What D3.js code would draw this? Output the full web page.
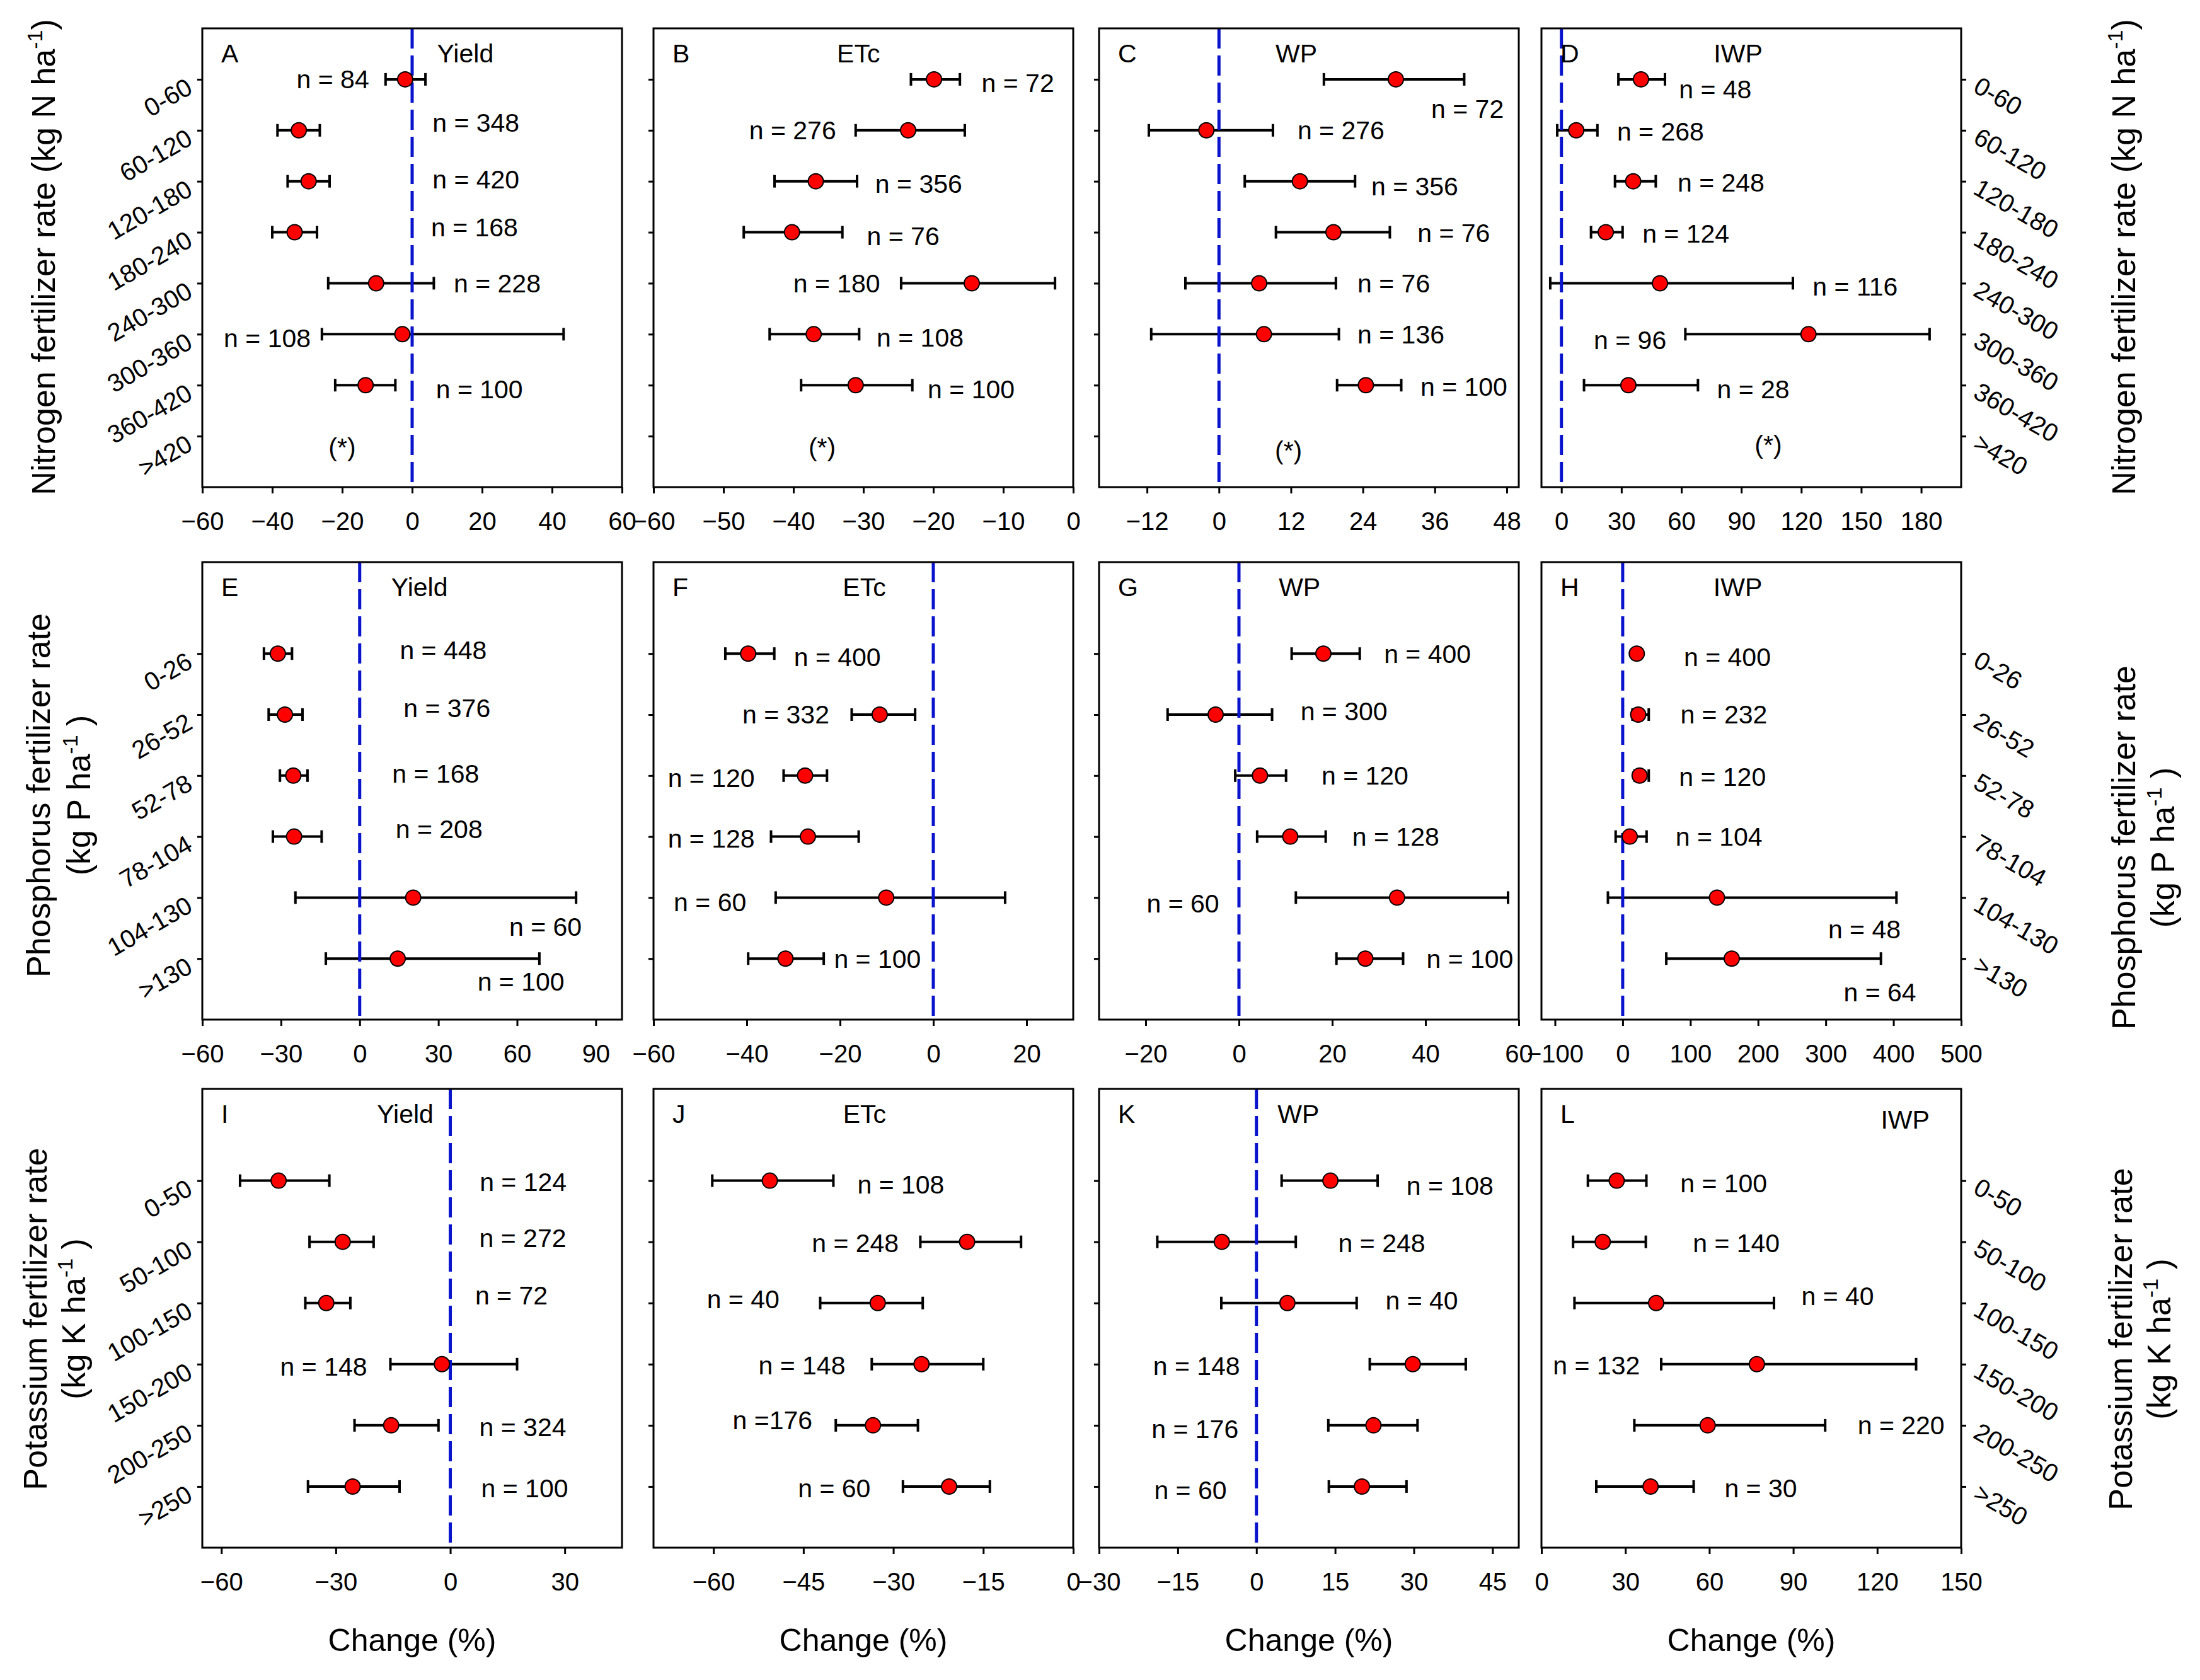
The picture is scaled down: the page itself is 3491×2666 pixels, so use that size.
<!DOCTYPE html>
<html>
<head>
<meta charset="utf-8">
<script src="https://cdn.jsdelivr.net/npm/d3@7"></script>
<style>
  body { margin: 0; background: #fff; }
</style>
</head>
<body>
<script>
const font = "Arial, 'Liberation Sans', sans-serif";

// fertilizer rate classes (kg ha-1)
const nRates = ["0-60", "60-120", "120-180", "180-240", "240-300", "300-360", "360-420", ">420"];
const pRates = ["0-26", "26-52", "52-78", "78-104", "104-130", ">130"];
const kRates = ["0-50", "50-100", "100-150", "150-200", "200-250", ">250"];

// effect sizes, % change: [mean, lower CI, upper CI, n]
const yieldN = [[-2, -7.6, 3.8, 84], [-32.4, -38.5, -26.4, 348], [-29.6, -35.6, -23.6, 420], [-33.6, -40, -27.2, 168],
  [-10.3, -24, 6.2, 228], [-2.8, -25.8, 43.3, 108], [-13.3, -22, -4.8, 100]];
const etcN = [[-19.9, -23.2, -16.2, 72], [-23.6, -31.1, -15.5, 276], [-36.8, -42.7, -30.9, 356], [-40.2, -47.1, -33, 76],
  [-14.5, -24.6, -2.6, 180], [-37.1, -43.4, -30.6, 108], [-31.1, -38.9, -23, 100]];
const wpN = [[29.5, 17.5, 40.9, 72], [-2.1, -11.7, 9, 276], [13.5, 4.3, 22.7, 356], [19.1, 9.5, 28.5, 76],
  [6.7, -5.6, 19.5, 76], [7.5, -11.3, 20, 136], [24.5, 19.7, 30.4, 100]];
const iwpN = [[39.8, 28.5, 51.8, 48], [7.4, -2.1, 18, 268], [35.9, 26.8, 47.2, 248], [22.2, 14.8, 30.6, 124],
  [49.3, -5.6, 115.8, 116], [123.6, 62, 184.2, 96], [33.5, 11.3, 68.3, 28]];

const yieldP = [[-31.2, -36.5, -25.8, 448], [-28.5, -34.7, -21.8, 376], [-25.3, -30.4, -19.9, 168],
  [-25, -33.1, -14.5, 208], [20.4, -24.5, 82.5, 60], [14.5, -12.9, 68.5, 100]];
const etcP = [[-39.7, -44.6, -34.1, 400], [-11.5, -17.5, -3.9, 332], [-27.5, -32.1, -22.8, 120],
  [-26.9, -34.8, -16, 128], [-10.1, -33.8, 15.4, 60], [-31.7, -39.7, -23.5, 100]];
const wpP = [[18.1, 11.3, 25.9, 400], [-5, -15.3, 7.1, 300], [4.5, -0.8, 10.1, 120],
  [11, 3.9, 18.6, 128], [33.9, 12.2, 57.7, 60], [27.1, 20.9, 35.2, 100]];
const iwpP = [[20.8, 16, 26, 400], [22.9, 14.5, 38.5, 232], [25, 17.7, 38.5, 120],
  [10.4, -10.4, 35.3, 104], [139.3, -21.8, 404.4, 48], [161.1, 64.4, 381.5, 64]];

const yieldK = [[-45, -55.1, -31.7, 124], [-28.2, -36.9, -20.1, 272], [-32.5, -38, -26.2, 72],
  [-2.2, -15.7, 17.5, 148], [-15.5, -25.1, -3.1, 324], [-25.6, -37.3, -13.3, 100]];
const etcK = [[-50.6, -60.2, -40, 108], [-17.7, -25.5, -8.7, 248], [-32.6, -42.2, -25.1, 40],
  [-25.3, -33.6, -15, 148], [-33.4, -39.6, -25.9, 176], [-20.7, -28.4, -13.9, 60]];
const wpK = [[14.1, 4.8, 23.1, 108], [-6.6, -18.9, 7.5, 248], [5.9, -6.7, 19.1, 40],
  [29.8, 21.6, 39.9, 148], [22.3, 13.7, 30.7, 176], [20.1, 13.8, 28.6, 60]];
const iwpK = [[26.9, 16.6, 37.5, 100], [21.9, 11.3, 37.3, 140], [41, 11.8, 83.1, 40],
  [77, 42.8, 133.9, 132], [59.4, 33.2, 101.4, 220], [39, 19.6, 54.4, 30]];

// where each "n = " note sits: [x in % change, anchor side, shift in category steps, no-space flag]
const yieldNLab = [[-12.3, "end", 0], [5.8, "start", -0.15], [5.8, "start", -0.04], [5.4, "start", -0.1],
  [11.9, "start", 0], [-29, "end", 0.08], [6.8, "start", 0.08]];
const etcNLab = [[-13.1, "start", 0.07], [-33.9, "end", 0], [-28.3, "start", 0.05], [-29.5, "start", 0.07],
  [-27.6, "end", 0], [-28.1, "start", 0.06], [-20.8, "start", 0.08]];
const wpNLab = [[35.4, "start", 0.58], [13.1, "start", 0], [25.4, "start", 0.1], [33.1, "start", 0.01],
  [23.1, "start", 0], [23.1, "start", 0], [33.6, "start", 0.03]];
const iwpNLab = [[58.8, "start", 0.19], [27.8, "start", 0.02], [58.1, "start", 0.03], [40.5, "start", 0.03],
  [125.7, "start", 0.06], [52.5, "end", 0.12], [77.8, "start", 0.08]];
const yieldPLab = [[15.3, "start", -0.06], [16.7, "start", -0.11], [12.4, "start", -0.03],
  [13.7, "start", -0.12], [57, "start", 0.48], [44.9, "start", 0.38]];
const etcPLab = [[-29.9, "start", 0.06], [-22.3, "end", 0], [-38.3, "end", 0.04],
  [-38.3, "end", 0.03], [-40.1, "end", 0.07], [-21.3, "start", 0]];
const wpPLab = [[31.1, "start", 0], [13.2, "start", -0.06], [17.7, "start", 0],
  [24.3, "start", 0], [-19.8, "start", 0.1], [40.2, "start", 0]];
const iwpPLab = [[90.4, "start", 0.06], [85.2, "start", 0], [83.2, "start", 0.02],
  [78, "start", 0], [303.5, "start", 0.52], [326.4, "start", 0.55]];
const yieldKLab = [[7.7, "start", 0.02], [7.6, "start", -0.06], [6.5, "start", -0.12],
  [-21.8, "end", 0.04], [7.6, "start", 0.03], [8.1, "start", 0.03]];
const etcKLab = [[-36, "start", 0.06], [-29.1, "end", 0.02], [-49, "end", -0.06],
  [-38, "end", 0.02], [-43.5, "end", -0.08, true], [-33.8, "end", 0.03]];
const wpKLab = [[28.6, "start", 0.08], [15.6, "start", 0.02], [24.6, "start", -0.04],
  [-19.7, "start", 0.03], [-20, "start", 0.06], [-19.5, "start", 0.06]];
const iwpKLab = [[49.6, "start", 0.04], [54.1, "start", 0.02], [92.9, "start", -0.11],
  [35.2, "end", 0.02], [113, "start", 0], [65.4, "start", 0.03]];

// x tick labels
const ticksA = [-60, -40, -20, 0, 20, 40, 60];
const ticksB = [-60, -50, -40, -30, -20, -10, 0];
const ticksC = [-12, 0, 12, 24, 36, 48];
const ticksD = [0, 30, 60, 90, 120, 150, 180];
const ticksE = [-60, -30, 0, 30, 60, 90];
const ticksF = [-60, -40, -20, 0, 20];
const ticksG = [-20, 0, 20, 40, 60];
const ticksH = [-100, 0, 100, 200, 300, 400, 500];
const ticksI = [-60, -30, 0, 30];
const ticksJ = [-60, -45, -30, -15, 0];
const ticksK = [-30, -15, 0, 15, 30, 45];
const ticksL = [0, 30, 60, 90, 120, 150];

const panels = [
  {letter: "A", title: "Yield", titleX: 15.2, row: 0, col: 0, domain: [-60, 60], ticks: ticksA, data: yieldN, labels: yieldNLab, star: [-20, 0.22]},
  {letter: "B", title: "ETc", titleX: -30.7, row: 0, col: 1, domain: [-60, 0], ticks: ticksB, data: etcN, labels: etcNLab, star: [-35.9, 0.22]},
  {letter: "C", title: "WP", titleX: 12.9, row: 0, col: 2, domain: [-20, 50], ticks: ticksC, data: wpN, labels: wpNLab, star: [11.6, 0.28]},
  {letter: "D", title: "IWP", titleX: 88.4, row: 0, col: 3, domain: [-10, 200], ticks: ticksD, data: iwpN, labels: iwpNLab, star: [103.5, 0.17]},
  {letter: "E", title: "Yield", titleX: 22.8, row: 1, col: 0, domain: [-60, 100], ticks: ticksE, data: yieldP, labels: yieldPLab},
  {letter: "F", title: "ETc", titleX: -14.8, row: 1, col: 1, domain: [-60, 30], ticks: ticksF, data: etcP, labels: etcPLab},
  {letter: "G", title: "WP", titleX: 13, row: 1, col: 2, domain: [-30, 60], ticks: ticksG, data: wpP, labels: wpPLab},
  {letter: "H", title: "IWP", titleX: 170, row: 1, col: 3, domain: [-120, 500], ticks: ticksH, data: iwpP, labels: iwpPLab},
  {letter: "I", title: "Yield", titleX: -11.8, row: 2, col: 0, domain: [-65, 45], ticks: ticksI, data: yieldK, labels: yieldKLab},
  {letter: "J", title: "ETc", titleX: -34.8, row: 2, col: 1, domain: [-70, 0], ticks: ticksJ, data: etcK, labels: etcKLab},
  {letter: "K", title: "WP", titleX: 8, row: 2, col: 2, domain: [-30, 50], ticks: ticksK, data: wpK, labels: wpKLab},
  {letter: "L", title: "IWP", titleX: 130, row: 2, col: 3, domain: [0, 150], ticks: ticksL, data: iwpK, labels: iwpKLab, titleDy: 9}
];

const rowCats = [nRates, pRates, kRates];
const rowTitles = [
  {lines: [["Nitrogen fertilizer rate (kg N ha", ")"]], left: [69], right: [3370], cy: [408, 408]},
  {lines: [["Phosphorus fertilizer rate"], ["(kg P ha", " )"]], left: [61, 125], right: [3370, 3432], cy: [1262, 1345]},
  {lines: [["Potassium fertilizer rate"], ["(kg K ha", " )"]], left: [56, 117], right: [3365, 3426], cy: [2093, 2125]}
];

// layout
const W = 3491, H = 2666;
const colX = [321, 1037, 1744, 2446];
const panelW = 666;
const rowY = [[45, 773], [892, 1618], [1728, 2456]];
const rowPad = [[1, 1], [1.5, 1], [1.5, 1]];

const svg = d3.select("body").append("svg")
    .attr("width", W)
    .attr("height", H)
    .attr("font-family", font)
    .style("background", "#fff");

panels.forEach(p => {
  const x0 = colX[p.col], x1 = x0 + panelW;
  const [y0, y1] = rowY[p.row];
  const cats = rowCats[p.row];
  const [pt, pb] = rowPad[p.row];
  const step = (y1 - y0) / (cats.length - 1 + pt + pb);

  const x = d3.scaleLinear().domain(p.domain).range([x0, x1]);
  const y = d3.scalePoint().domain(cats).range([y0 + pt * step, y1 - pb * step]);

  const g = svg.append("g");

  // bottom axis
  const xa = g.append("g")
      .attr("transform", `translate(0,${y1})`)
      .call(d3.axisBottom(x).tickValues(p.ticks).tickSize(10).tickPadding(30))
      .attr("font-size", 40)
      .attr("font-family", font);
  xa.select(".domain").remove();
  xa.selectAll("line").attr("stroke-width", 3);

  // category axis
  const right = p.col === 3;
  const ya = g.append("g")
      .attr("transform", `translate(${right ? x1 : x0},0)`)
      .call((right ? d3.axisRight(y) : d3.axisLeft(y)).tickSize(8))
      .attr("font-size", 40)
      .attr("font-family", font);
  ya.select(".domain").remove();
  ya.selectAll("line").attr("stroke-width", 3);
  if (p.col === 0) {
    ya.selectAll("text")
        .attr("x", 0).attr("dy", "0.35em")
        .attr("text-anchor", "end")
        .attr("transform", "translate(-20,8) rotate(-30)");
  } else if (right) {
    ya.selectAll("text")
        .attr("x", 0).attr("dy", "0.35em")
        .attr("text-anchor", "start")
        .attr("transform", "translate(24,6) rotate(30)");
  } else {
    ya.selectAll("text").remove();
  }

  // error bars
  const bars = g.append("g")
      .attr("stroke", "#000")
      .attr("stroke-width", 4)
    .selectAll("g")
    .data(p.data)
    .join("g");
  bars.append("line")
      .attr("x1", d => x(d[1])).attr("x2", d => x(d[2]))
      .attr("y1", (d, i) => y(cats[i])).attr("y2", (d, i) => y(cats[i]));
  bars.append("line")
      .attr("x1", d => x(d[1])).attr("x2", d => x(d[1]))
      .attr("y1", (d, i) => y(cats[i]) - 10).attr("y2", (d, i) => y(cats[i]) + 10);
  bars.append("line")
      .attr("x1", d => x(d[2])).attr("x2", d => x(d[2]))
      .attr("y1", (d, i) => y(cats[i]) - 10).attr("y2", (d, i) => y(cats[i]) + 10);

  // zero line
  if (p.domain[0] < 0 && p.domain[1] > 0) {
    g.append("line")
        .attr("x1", x(0)).attr("x2", x(0))
        .attr("y1", y0).attr("y2", y1)
        .attr("stroke", "#0a14cc")
        .attr("stroke-width", 5)
        .attr("stroke-dasharray", "32,11");
  }

  g.append("g")
    .selectAll("circle")
    .data(p.data)
    .join("circle")
      .attr("cx", d => x(d[0]))
      .attr("cy", (d, i) => y(cats[i]))
      .attr("r", 12)
      .attr("fill", "#ff0000")
      .attr("stroke", "#000")
      .attr("stroke-width", 2);

  // n notes
  g.append("g")
      .attr("font-size", 41)
    .selectAll("text")
    .data(p.data)
    .join("text")
      .attr("x", (d, i) => x(p.labels[i][0]))
      .attr("y", (d, i) => y(cats[i]) + p.labels[i][2] * step)
      .attr("dy", "0.35em")
      .attr("text-anchor", (d, i) => p.labels[i][1])
      .text((d, i) => p.labels[i][3] ? `n =${d[3]}` : `n = ${d[3]}`);

  if (p.star) {
    g.append("text")
        .attr("x", x(p.star[0]))
        .attr("y", y(cats[cats.length - 1]) + p.star[1] * step)
        .attr("dy", "0.35em")
        .attr("text-anchor", "middle")
        .attr("font-size", 41)
        .text("(*)");
  }

  g.append("text")
      .attr("x", x0 + 30).attr("y", y0 + 40)
      .attr("dy", "0.35em")
      .attr("font-size", 41)
      .text(p.letter);
  g.append("text")
      .attr("x", x(p.titleX)).attr("y", y0 + 40 + (p.titleDy || 0))
      .attr("dy", "0.35em")
      .attr("text-anchor", "middle")
      .attr("font-size", 41)
      .text(p.title);

  g.append("rect")
      .attr("x", x0).attr("y", y0)
      .attr("width", panelW).attr("height", y1 - y0)
      .attr("fill", "none")
      .attr("stroke", "#000")
      .attr("stroke-width", 3);

  if (p.row === 2) {
    svg.append("text")
        .attr("x", (x0 + x1) / 2).attr("y", 2602)
        .attr("dy", "0.35em")
        .attr("text-anchor", "middle")
        .attr("font-size", 50)
        .text("Change (%)");
  }
});

// rotated row titles, both sides
function rowTitle(cx, cy, parts) {
  const t = svg.append("text")
      .attr("transform", `translate(${cx},${cy}) rotate(-90)`)
      .attr("dy", "0.35em")
      .attr("text-anchor", "middle")
      .attr("font-size", 52);
  t.append("tspan").text(parts[0]);
  if (parts.length > 1) {
    t.append("tspan").attr("font-size", 34).attr("dy", -20).text("-1");
    t.append("tspan").attr("dy", 20).text(parts[1]);
  }
}

rowTitles.forEach(r => {
  r.lines.forEach((parts, i) => {
    rowTitle(r.left[i], r.cy[0], parts);
    rowTitle(r.right[i], r.cy[1], parts);
  });
});
</script>
</body>
</html>
